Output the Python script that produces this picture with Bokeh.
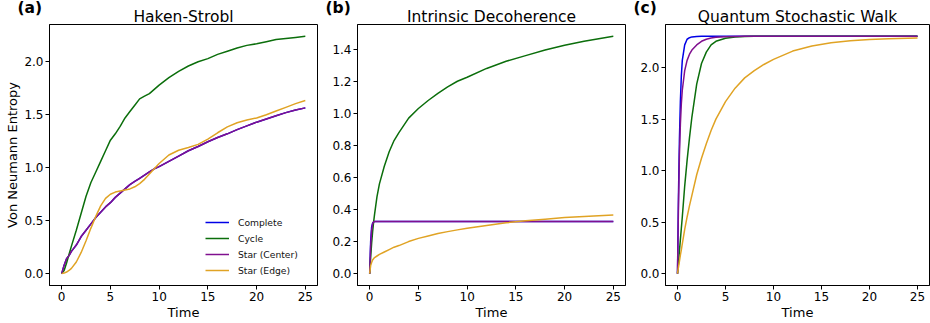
from bokeh.plotting import figure
from bokeh.layouts import row
from bokeh.models import Range1d, FixedTicker, NumeralTickFormatter, Title
from bokeh.embed import file_html
from bokeh.resources import INLINE

# ---------------- data ----------------
series_names = ["Complete", "Cycle", "Star (Center)", "Star (Edge)"]
colors = ["#0000e6", "#0b6e0b", "#80108f", "#e0a324"]
panel_titles = ["Haken-Strobl", "Intrinsic Decoherence", "Quantum Stochastic Walk"]
panel_tags = ["(a)", "(b)", "(c)"]
x_ticks = [0, 5, 10, 15, 20, 25]

# (a) Haken-Strobl
t_a = [0, 0.25, 0.5, 0.75, 1, 1.5, 2, 2.5, 3, 3.5, 4, 4.5, 5, 5.5, 6, 6.5, 7, 7.5, 8,
       8.5, 9, 9.5, 10, 11, 12, 13, 14, 15, 16, 17, 18, 19, 20, 21, 22, 23, 24, 25]
complete_a = [0, 0.08, 0.14, 0.17, 0.21, 0.27, 0.35, 0.41, 0.47, 0.53, 0.58, 0.63, 0.67,
              0.72, 0.76, 0.80, 0.84, 0.87, 0.90, 0.93, 0.96, 0.99, 1.01, 1.06, 1.11, 1.16,
              1.20, 1.245, 1.285, 1.32, 1.36, 1.395, 1.43, 1.46, 1.49, 1.52, 1.545, 1.565]
cycle_a = [0, 0.03, 0.10, 0.18, 0.26, 0.41, 0.57, 0.73, 0.86, 0.96, 1.06, 1.16, 1.26,
           1.32, 1.39, 1.47, 1.53, 1.59, 1.65, 1.675, 1.70, 1.74, 1.78, 1.85, 1.91, 1.96,
           2.00, 2.03, 2.07, 2.10, 2.13, 2.155, 2.17, 2.19, 2.21, 2.22, 2.23, 2.24]
center_a = [0, 0.08, 0.14, 0.17, 0.21, 0.27, 0.35, 0.41, 0.47, 0.53, 0.58, 0.63, 0.67,
            0.72, 0.76, 0.80, 0.84, 0.87, 0.90, 0.93, 0.96, 0.99, 1.01, 1.06, 1.11, 1.16,
            1.20, 1.245, 1.285, 1.32, 1.36, 1.395, 1.43, 1.46, 1.49, 1.52, 1.545, 1.565]
edge_a = [0, 0.005, 0.015, 0.03, 0.05, 0.11, 0.20, 0.31, 0.43, 0.54, 0.64, 0.71, 0.75,
          0.77, 0.78, 0.79, 0.80, 0.82, 0.85, 0.89, 0.94, 0.99, 1.04, 1.12, 1.165, 1.19,
          1.22, 1.27, 1.33, 1.385, 1.425, 1.45, 1.47, 1.50, 1.535, 1.57, 1.605, 1.635]
y_ticks_a = [0, 0.5, 1.0, 1.5, 2.0]

# (b) Intrinsic Decoherence
t_b = [0, 0.1, 0.2, 0.3, 0.4, 0.5, 0.75, 1, 1.5, 2, 2.5, 3, 4, 5, 6, 7, 8, 9, 10,
       12, 14, 16, 18, 20, 22, 25]
complete_b = [0, 0.20, 0.29, 0.315, 0.323, 0.325, 0.325, 0.325, 0.325, 0.325, 0.325,
              0.325, 0.325, 0.325, 0.325, 0.325, 0.325, 0.325, 0.325, 0.325, 0.325,
              0.325, 0.325, 0.325, 0.325, 0.325]
cycle_b = [0, 0.10, 0.19, 0.26, 0.32, 0.37, 0.48, 0.56, 0.67, 0.76, 0.83, 0.88, 0.97,
           1.03, 1.08, 1.125, 1.165, 1.20, 1.225, 1.28, 1.325, 1.36, 1.395, 1.425, 1.45,
           1.48]
center_b = [0, 0.17, 0.27, 0.31, 0.322, 0.325, 0.325, 0.325, 0.325, 0.325, 0.325,
            0.325, 0.325, 0.325, 0.325, 0.325, 0.325, 0.325, 0.325, 0.325, 0.325,
            0.325, 0.325, 0.325, 0.325, 0.325]
edge_b = [0, 0.05, 0.07, 0.085, 0.093, 0.10, 0.11, 0.12, 0.135, 0.15, 0.165, 0.175,
          0.20, 0.22, 0.235, 0.25, 0.262, 0.273, 0.283, 0.30, 0.317, 0.33, 0.34, 0.35,
          0.357, 0.365]
y_ticks_b = [0, 0.2, 0.4, 0.6, 0.8, 1.0, 1.2, 1.4]

# (c) Quantum Stochastic Walk
t_c = [0, 0.1, 0.2, 0.3, 0.4, 0.5, 0.75, 1, 1.25, 1.5, 2, 2.5, 3, 3.5, 4, 5, 6, 7, 8,
       9, 10, 12, 14, 16, 18, 20, 22, 25]
complete_c = [0, 0.75, 1.30, 1.67, 1.92, 2.07, 2.22, 2.275, 2.29, 2.298, 2.302, 2.303,
              2.303, 2.303, 2.303, 2.303, 2.303, 2.303, 2.303, 2.303, 2.303, 2.303,
              2.303, 2.303, 2.303, 2.303, 2.303, 2.303]
cycle_c = [0, 0.10, 0.22, 0.33, 0.44, 0.55, 0.85, 1.10, 1.32, 1.52, 1.84, 2.04, 2.15,
           2.22, 2.255, 2.285, 2.297, 2.301, 2.303, 2.303, 2.303, 2.303, 2.303, 2.303,
           2.303, 2.303, 2.303, 2.303]
center_c = [0, 0.65, 1.15, 1.45, 1.65, 1.78, 1.97, 2.07, 2.13, 2.17, 2.22, 2.255, 2.275,
            2.287, 2.294, 2.30, 2.302, 2.303, 2.303, 2.303, 2.303, 2.303, 2.303, 2.303,
            2.303, 2.303, 2.303, 2.303]
edge_c = [0, 0.06, 0.12, 0.18, 0.23, 0.29, 0.43, 0.55, 0.66, 0.76, 0.96, 1.12, 1.26,
          1.39, 1.50, 1.67, 1.80, 1.90, 1.97, 2.03, 2.08, 2.16, 2.21, 2.24, 2.26, 2.272,
          2.28, 2.286]
y_ticks_c = [0, 0.5, 1.0, 1.5, 2.0]

# ---------------- layout ----------------
FH = 261
TOP, BOTTOM = 24, 38
FONT = "DejaVu Sans"


def make_panel(idx, t, ys, y_ticks, fw, borders, show_ylabel, show_legend):
    ymax = max(max(s) for s in ys)
    pad_y = 0.05 * ymax
    x0, x1 = -1.25, 26.25
    y0, y1 = -pad_y, ymax + pad_y
    p = figure(frame_width=fw, frame_height=FH,
               min_border_left=borders[0], min_border_right=borders[1],
               min_border_top=TOP, min_border_bottom=BOTTOM,
               x_range=Range1d(x0, x1), y_range=Range1d(y0, y1),
               output_backend="svg", toolbar_location=None)
    p.background_fill_color = "white"
    p.border_fill_color = "white"
    p.outline_line_color = "black"
    p.outline_line_width = 1
    p.xgrid.visible = False
    p.ygrid.visible = False

    # outer title: the bold panel tag, shifted left of the frame
    p.title.text = panel_tags[idx]
    p.title.align = "left"
    p.title.offset = -32
    p.title.standoff = -18
    p.title.text_font = FONT
    p.title.text_font_size = "15.5px"
    p.title.text_font_style = "bold"
    p.title.text_color = "black"

    # inner title: the panel name, centred over the frame
    p.add_layout(Title(text=panel_titles[idx], align="center", standoff=-3,
                       text_font=FONT, text_font_size="15.5px",
                       text_font_style="normal", text_color="black"), "above")

    for ax in (p.xaxis[0], p.yaxis[0]):
        ax.axis_line_color = "black"
        ax.major_tick_line_color = "black"
        ax.major_tick_out = 4
        ax.major_tick_in = 0
        ax.minor_tick_line_color = None
        ax.major_label_text_font = FONT
        ax.major_label_text_font_size = "12px"
        ax.major_label_text_color = "black"
        ax.major_label_standoff = 2
        ax.axis_label_text_font = FONT
        ax.axis_label_text_font_size = "13px"
        ax.axis_label_text_font_style = "normal"
        ax.axis_label_text_color = "black"
        ax.axis_label_standoff = 1

    p.xaxis.ticker = FixedTicker(ticks=x_ticks)
    p.yaxis.ticker = FixedTicker(ticks=y_ticks)
    p.yaxis.formatter = NumeralTickFormatter(format="0.0")
    p.xaxis.axis_label = "Time"
    if show_ylabel:
        p.yaxis.axis_label = "Von Neumann Entropy"

    for name, col, y in zip(series_names, colors, ys):
        if show_legend:
            p.line(t, y, line_color=col, line_width=1.5, legend_label=name)
        else:
            p.line(t, y, line_color=col, line_width=1.5)

    if show_legend:
        lg = p.legend[0]
        lg.location = (156, 7)
        lg.border_line_alpha = 0
        lg.background_fill_alpha = 0
        lg.label_text_font = FONT
        lg.label_text_font_size = "9.2px"
        lg.label_text_color = "#111111"
        lg.glyph_width = 24
        lg.glyph_height = 16
        lg.label_height = 16
        lg.label_standoff = 9
        lg.spacing = 0
        lg.padding = 0
        lg.margin = 0
    return p


pa = make_panel(0, t_a, [complete_a, cycle_a, center_a, edge_a], y_ticks_a, 268,
                (49, 4), True, True)
pb = make_panel(1, t_b, [complete_b, cycle_b, center_b, edge_b], y_ticks_b, 268,
                (36, 4), False, False)
pc = make_panel(2, t_c, [complete_c, cycle_c, center_c, edge_c], y_ticks_c, 264,
                (36, 1), False, False)

layout = row(pa, pb, pc)
open("out.html", "w").write(file_html(layout, INLINE))
